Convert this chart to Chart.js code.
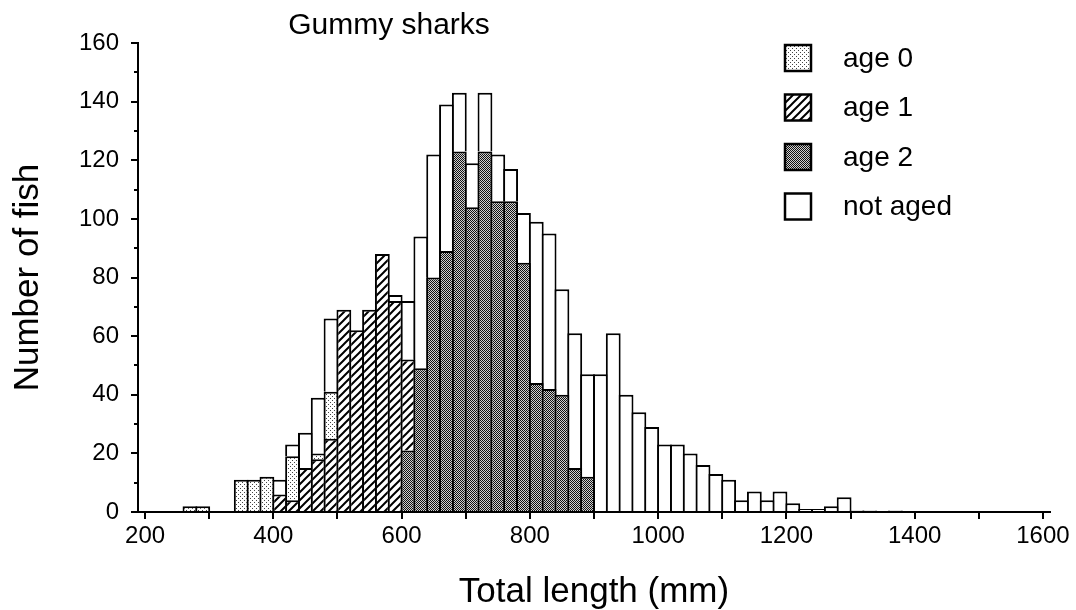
<!DOCTYPE html>
<html lang="en">
<head>
    <meta charset="UTF-8">
    <title>Gummy sharks - length frequency</title>
    <script src="https://cdn.jsdelivr.net/npm/chart.js"></script>
    <style>
        body {
            margin: 0;
            padding: 0;
            background: #fff;
            overflow: hidden;
        }
        canvas {
            display: block;
        }
    </style>
</head>
<body>

    <canvas id="sharkChart" width="1076" height="610"></canvas>

    <script>
        // Length classes (lower edge of each 20 mm bin)
        const binStart = [260, 280, 300, 320, 340, 360, 380, 400, 420, 440, 460, 480, 500, 520, 540, 560, 580,
            600, 620, 640, 660, 680, 700, 720, 740, 760, 780, 800, 820, 840, 860, 880, 900, 920, 940, 960, 980,
            1000, 1020, 1040, 1060, 1080, 1100, 1120, 1140, 1160, 1180, 1200, 1220, 1240, 1260, 1280, 1300,
            1320, 1340, 1360, 1380];
        const binWidth = 20;

        // Number of fish per bin, one array per group
        const age0 = [2, 2, 0, 0, 11, 11, 12, 0, 15, 0, 2, 16, 0, 0, 0, 0, 0,
            0, 0, 0, 0, 0, 0, 0, 0, 0, 0, 0, 0, 0, 0, 0, 0, 0, 0, 0, 0,
            0, 0, 0, 0, 0, 0, 0, 0, 0, 0, 0, 0, 0, 0, 0, 0,
            0, 0, 0, 0];
        const age1 = [0, 0, 0, 0, 0, 0, 0, 6, 4, 15, 18, 25, 69, 62, 69, 88, 72,
            31, 0, 0, 0, 0, 0, 0, 0, 0, 0, 0, 0, 0, 0, 0, 0, 0, 0, 0, 0,
            0, 0, 0, 0, 0, 0, 0, 0, 0, 0, 0, 0, 0, 0, 0, 0,
            0, 0, 0, 0];
        const age2 = [0, 0, 0, 0, 0, 0, 0, 0, 0, 0, 0, 0, 0, 0, 0, 0, 0,
            21, 49, 80, 89, 123, 104, 123, 106, 106, 85, 44, 42, 40, 15, 12, 0, 0, 0, 0, 0,
            0, 0, 0, 0, 0, 0, 0, 0, 0, 0, 0, 0, 0, 0, 0, 0,
            0, 0, 0, 0];
        const notAged = [0, 0, 0, 0, 0, 0, 0, 5, 4, 12, 19, 25, 0, 0, 0, 0, 2,
            20, 45, 42, 50, 20, 15, 20, 16, 11, 17, 55, 53, 36, 46, 35, 47, 61, 40, 34, 29,
            23, 23, 20, 16, 13, 11, 4, 7, 4, 7, 3, 1, 1, 2, 5, 0.5,
            0.5, 0, 0.5, 0];

        // Axis ticks
        const xTickValues = [200, 300, 400, 500, 600, 700, 800, 900, 1000, 1100, 1200, 1300, 1400, 1500, 1600];
        const xLabelValues = [200, 400, 600, 800, 1000, 1200, 1400, 1600];
        const yTickValues = [0, 20, 40, 60, 80, 100, 120, 140, 160];
        const yMinorTickValues = [0, 10, 20, 30, 40, 50, 60, 70, 80, 90, 100, 110, 120, 130, 140, 150, 160];

        const canvas = document.getElementById('sharkChart');
        const ctx = canvas.getContext('2d');

        // Fill patterns like the printed figure
        function makePattern(size, draw) {
            const c = document.createElement('canvas');
            c.width = size;
            c.height = size;
            const g = c.getContext('2d');
            g.fillStyle = '#fff';
            g.fillRect(0, 0, size, size);
            draw(g, size);
            return ctx.createPattern(c, 'repeat');
        }

        const dotsLight = makePattern(4, function (g) {
            g.fillStyle = '#444';
            g.fillRect(0, 0, 1, 1);
            g.fillRect(2, 2, 1, 1);
        });
        const hatch = makePattern(8, function (g, s) {
            g.strokeStyle = '#000';
            g.lineWidth = 2;
            g.beginPath();
            g.moveTo(-1, s + 1); g.lineTo(s + 1, -1);
            g.moveTo(-s - 1, s + 1); g.lineTo(1, -1);
            g.moveTo(s - 1, s + 1); g.lineTo(2 * s + 1, -1);
            g.stroke();
        });
        const dotsDark = makePattern(2, function (g) {
            g.fillStyle = '#d0d0d0';
            g.fillRect(0, 0, 2, 2);
            g.fillStyle = '#111';
            g.fillRect(0, 0, 1, 1);
            g.fillRect(1, 1, 1, 1);
        });

        function toPoints(values) {
            return values.map((v, i) => ({ x: binStart[i] + binWidth / 2, y: v }));
        }

        const fontFamily = '"Liberation Sans", Arial, Helvetica, sans-serif';

        function barSet(label, values, fill) {
            return {
                label: label,
                data: toPoints(values),
                backgroundColor: fill,
                borderColor: '#000',
                borderWidth: 2,
                borderSkipped: 'start',
                categoryPercentage: 1,
                barPercentage: 1.156
            };
        }

        // Title and legend drawn on top of the chart
        const figureText = {
            id: 'figureText',
            afterDraw(chart) {
                const c = chart.ctx;
                c.save();
                c.fillStyle = '#000';
                c.textBaseline = 'middle';
                c.font = '30px ' + fontFamily;
                c.textAlign = 'center';
                c.fillText('Gummy sharks', 389, 26);

                const order = ['age 0', 'age 1', 'age 2', 'not aged'];
                c.textAlign = 'left';
                c.font = '28px ' + fontFamily;
                order.forEach(function (name, i) {
                    const ds = chart.data.datasets.find(d => d.label === name);
                    const cy = 58 + i * 49.5;
                    c.fillStyle = ds.backgroundColor;
                    c.fillRect(785, cy - 13, 26, 26);
                    c.strokeStyle = '#000';
                    c.lineWidth = 2.5;
                    c.strokeRect(785, cy - 13, 26, 26);
                    c.fillStyle = '#000';
                    c.fillText(name, 843, cy + 1);
                });
                c.restore();
            }
        };

        new Chart(ctx, {
            type: 'bar',
            data: {
                datasets: [
                    barSet('age 2', age2, dotsDark),
                    barSet('age 1', age1, hatch),
                    barSet('age 0', age0, dotsLight),
                    barSet('not aged', notAged, '#fff')
                ]
            },
            options: {
                responsive: false,
                devicePixelRatio: 1,
                animation: false,
                layout: {
                    padding: { top: 43, right: 26, bottom: 0, left: 0 }
                },
                plugins: {
                    legend: { display: false },
                    tooltip: { enabled: false }
                },
                scales: {
                    x: {
                        type: 'linear',
                        stacked: true,
                        offset: false,
                        min: 189,
                        max: 1611,
                        afterBuildTicks: function (s) { s.ticks = xTickValues.map(v => ({ value: v })); },
                        afterFit: function (s) { s.height = 98; },
                        ticks: {
                            autoSkip: false,
                            maxRotation: 0,
                            padding: 3,
                            color: '#000',
                            font: { family: fontFamily, size: 24 },
                            callback: function (v) { return xLabelValues.includes(v) ? String(v) : ''; }
                        },
                        grid: { offset: false, drawOnChartArea: false, color: '#000', lineWidth: 2, tickLength: 7 },
                        border: { color: '#000', width: 2 },
                        title: {
                            display: true,
                            text: 'Total length (mm)',
                            color: '#000',
                            padding: 0,
                            font: { family: fontFamily, size: 35, lineHeight: 1 }
                        }
                    },
                    y: {
                        stacked: true,
                        min: 0,
                        max: 160,
                        weight: 1,
                        afterBuildTicks: function (s) { s.ticks = yTickValues.map(v => ({ value: v })); },
                        afterFit: function (s) { s.width = 138; },
                        ticks: {
                            autoSkip: false,
                            padding: 12,
                            color: '#000',
                            font: { family: fontFamily, size: 24 }
                        },
                        grid: { drawOnChartArea: false, color: '#000', lineWidth: 2, tickLength: 7 },
                        border: { color: '#000', width: 2 },
                        title: {
                            display: true,
                            text: 'Number of fish',
                            color: '#000',
                            padding: 0,
                            font: { family: fontFamily, size: 35, lineHeight: 1.6 }
                        }
                    },
                    yMinor: {
                        type: 'linear',
                        position: 'left',
                        min: 0,
                        max: 160,
                        weight: 0,
                        afterBuildTicks: function (s) { s.ticks = yMinorTickValues.map(v => ({ value: v })); },
                        afterFit: function (s) { s.width = 0; },
                        ticks: { display: false, autoSkip: false },
                        grid: { drawOnChartArea: false, color: '#000', lineWidth: 2, tickLength: 4 },
                        border: { display: false }
                    }
                }
            },
            plugins: [figureText]
        });
    </script>

</body>
</html>
